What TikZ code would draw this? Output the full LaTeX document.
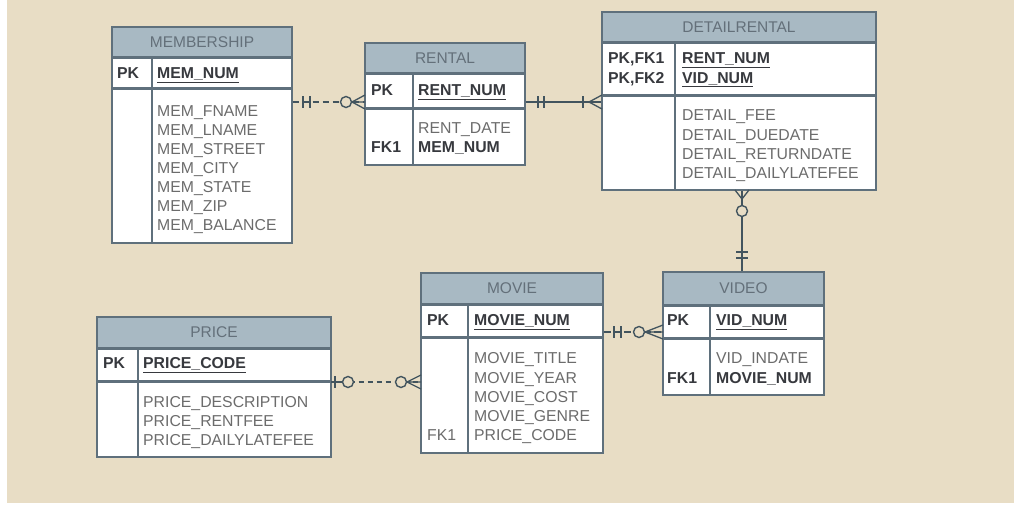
\documentclass[tikz,border=0pt]{standalone}
\usepackage{fontspec}
\setmainfont{Liberation Sans}
\usetikzlibrary{fit}
\definecolor{bg}{RGB}{232,221,197}
\definecolor{hdr}{RGB}{168,185,195}
\definecolor{bord}{RGB}{95,112,124}
\definecolor{htext}{RGB}{100,112,122}
\definecolor{ftext}{RGB}{108,108,108}
\definecolor{ktext}{RGB}{55,57,62}
\definecolor{conn}{RGB}{66,84,94}
\tikzset{
  hdrbox/.style={draw=bord, fill=hdr, line width=1.2pt, inner sep=0pt},
  rowbox/.style={draw=bord, fill=white, line width=1.2pt, inner sep=0pt},
  outer/.style={draw=bord, line width=1.4pt, inner sep=0pt},
  tline/.style={draw=bord, line width=1.6pt},
  sepline/.style={draw=bord, line width=2.2pt},
  ttl/.style={font=\fontsize{15.5}{18}\selectfont, text=htext, inner sep=0pt},
  fld/.style={font=\fontsize{15.8}{19}\selectfont, text=ftext, inner sep=0pt, anchor=base west},
  key/.style={fld, font=\fontsize{15.8}{19}\selectfont\bfseries, text=ktext},
  conn/.style={draw=conn, line width=1.2pt},
  tick/.style={draw=conn, line width=1.3pt},
  ring/.style={draw=conn, line width=1.4pt, fill=bg}
}
\newcommand\ertab[9]{%
  \node[hdrbox, fit={(#2,#3) (#4,#5)}] (#1h) {};
  \node[rowbox, fit={(#2,#5) (#4,#6)}] (#1k) {};
  \node[rowbox, fit={(#2,#6) (#4,#7)}] (#1b) {};
  \node[outer, fit={(#2,#3) (#4,#7)}] (#1) {};
  \draw[tline] (#8,#5) -- (#8,#7);
  \draw[sepline] (#1h.south west) -- (#1h.south east);
  \draw[sepline] (#1k.south west) -- (#1k.south east);
  \node[ttl] (#1t) at (#1h.center) {#9};
}
\begin{document}
\begin{tikzpicture}[x=1pt,y=-1pt]
\useasboundingbox (0,0) rectangle (1014,506);
\fill[white] (0,0) rectangle (1014,506);
\fill[bg] (7,0) rectangle (1014,503);

% tables
\ertab{mem}{112}{27}{292}{57}{88}{243}{152}{MEMBERSHIP}
\ertab{rent}{365}{43}{525}{73}{108}{165}{413}{RENTAL}
\ertab{det}{602}{12}{876}{42}{95}{190}{675}{DETAILRENTAL}
\ertab{vid}{663}{272}{824}{305}{338}{395}{710}{VIDEO}
\ertab{mov}{421}{273}{603}{304}{337}{453}{468}{MOVIE}
\ertab{pri}{97}{317}{331}{348}{381}{457}{138}{PRICE}

% MEMBERSHIP fields
\node[key] (m0) at (117,78.7) {PK};
\node[key] (m1) at (157,78.7) {\underline{MEM\_NUM}};
\foreach \t [count=\i from 0] in {MEM\_FNAME,MEM\_LNAME,MEM\_STREET,MEM\_CITY,MEM\_STATE,MEM\_ZIP,MEM\_BALANCE}
  \node[fld] (mf\i) at (157,116.2+\i*19) {\t};

% RENTAL fields
\node[key] (r0) at (371,95.7) {PK};
\node[key] (r1) at (418,95.7) {\underline{RENT\_NUM}};
\node[fld] (r2) at (418,133.7) {RENT\_DATE};
\node[key] (r3) at (371,152.7) {FK1};
\node[key] (r4) at (418,152.7) {MEM\_NUM};

% DETAILRENTAL fields
\node[key] (d0) at (608,63.7) {PK,FK1};
\node[key] (d1) at (608,83.2) {PK,FK2};
\node[key] (d2) at (682,63.7) {\underline{RENT\_NUM}};
\node[key] (d3) at (682,83.2) {\underline{VID\_NUM}};
\foreach \t [count=\i from 0] in {DETAIL\_FEE,DETAIL\_DUEDATE,DETAIL\_RETURNDATE,DETAIL\_DAILYLATEFEE}
  \node[fld] (df\i) at (682,120.7+\i*19.3) {\t};

% VIDEO fields
\node[key] (v0) at (667,325.7) {PK};
\node[key] (v1) at (716,325.7) {\underline{VID\_NUM}};
\node[fld] (v2) at (716,363.7) {VID\_INDATE};
\node[key] (v3) at (667,383.7) {FK1};
\node[key] (v4) at (716,383.7) {MOVIE\_NUM};

% MOVIE fields
\node[key] (o0) at (427,325.7) {PK};
\node[key] (o1) at (474,325.7) {\underline{MOVIE\_NUM}};
\foreach \t [count=\i from 0] in {MOVIE\_TITLE,MOVIE\_YEAR,MOVIE\_COST,MOVIE\_GENRE,PRICE\_CODE}
  \node[fld] (of\i) at (474,363.7+\i*19.3) {\t};
\node[fld] (o2) at (427,440.9) {FK1};

% PRICE fields
\node[key] (p0) at (103,368.7) {PK};
\node[key] (p1) at (143,368.7) {\underline{PRICE\_CODE}};
\foreach \t [count=\i from 0] in {PRICE\_DESCRIPTION,PRICE\_RENTFEE,PRICE\_DAILYLATEFEE}
  \node[fld] (pf\i) at (143,407.7+\i*19) {\t};

% connector levels
\coordinate (L1) at (0,102);
\coordinate (L2) at (0,332);
\coordinate (L3) at (0,382);
\coordinate (V) at (742,0);

% MEMBERSHIP -- RENTAL (dashed, one to zero-or-many)
\draw[conn, dash pattern=on 6pt off 4pt] (mem.east |- L1) -- (rent.west |- L1);
\draw[tick] (303,102) -- (310,102) (303,96) -- (303,108) (310,96) -- (310,108);
\draw[tick] (352,102) -- (365,95) (352,102) -- (365,109) (352,102) -- (365,102);
\draw[ring] (346,102) circle (5.5);

% RENTAL -- DETAILRENTAL (solid, one to one-or-many)
\draw[conn] (rent.east |- L1) -- (det.west |- L1);
\draw[tick] (538,96) -- (538,108) (544,96) -- (544,108) (583,96) -- (583,108);
\draw[tick] (589,102) -- (602,95) (589,102) -- (602,109);

% DETAILRENTAL -- VIDEO (solid, zero-or-many to one)
\draw[conn] (det.south -| V) -- (vid.north -| V);
\draw[tick] (742,199) -- (735,190) (742,199) -- (749,190);
\draw[ring] (742,211) circle (5.5);
\draw[tick] (736,252) -- (748,252) (736,258) -- (748,258);

% MOVIE -- VIDEO (one to zero-or-many)
\draw[conn, dash pattern=on 7pt off 3pt] (mov.east |- L2) -- (vid.west |- L2);
\draw[tick] (614,332) -- (621,332) (614,326) -- (614,338) (621,326) -- (621,338);
\draw[tick] (645,332) -- (663,325) (645,332) -- (663,339) (645,332) -- (663,332);
\draw[ring] (639,332) circle (5.5);

% PRICE -- MOVIE (zero-or-one to zero-or-many, dashed)
\draw[conn, dash pattern=on 5pt off 4pt] (pri.east |- L3) -- (mov.west |- L3);
\draw[tick] (331,382) -- (343,382) (335,376) -- (335,388);
\draw[ring] (348,382) circle (5.5);
\draw[tick] (407,382) -- (421,375) (407,382) -- (421,389) (407,382) -- (421,382);
\draw[ring] (401,382) circle (5.5);
\end{tikzpicture}
\end{document}
